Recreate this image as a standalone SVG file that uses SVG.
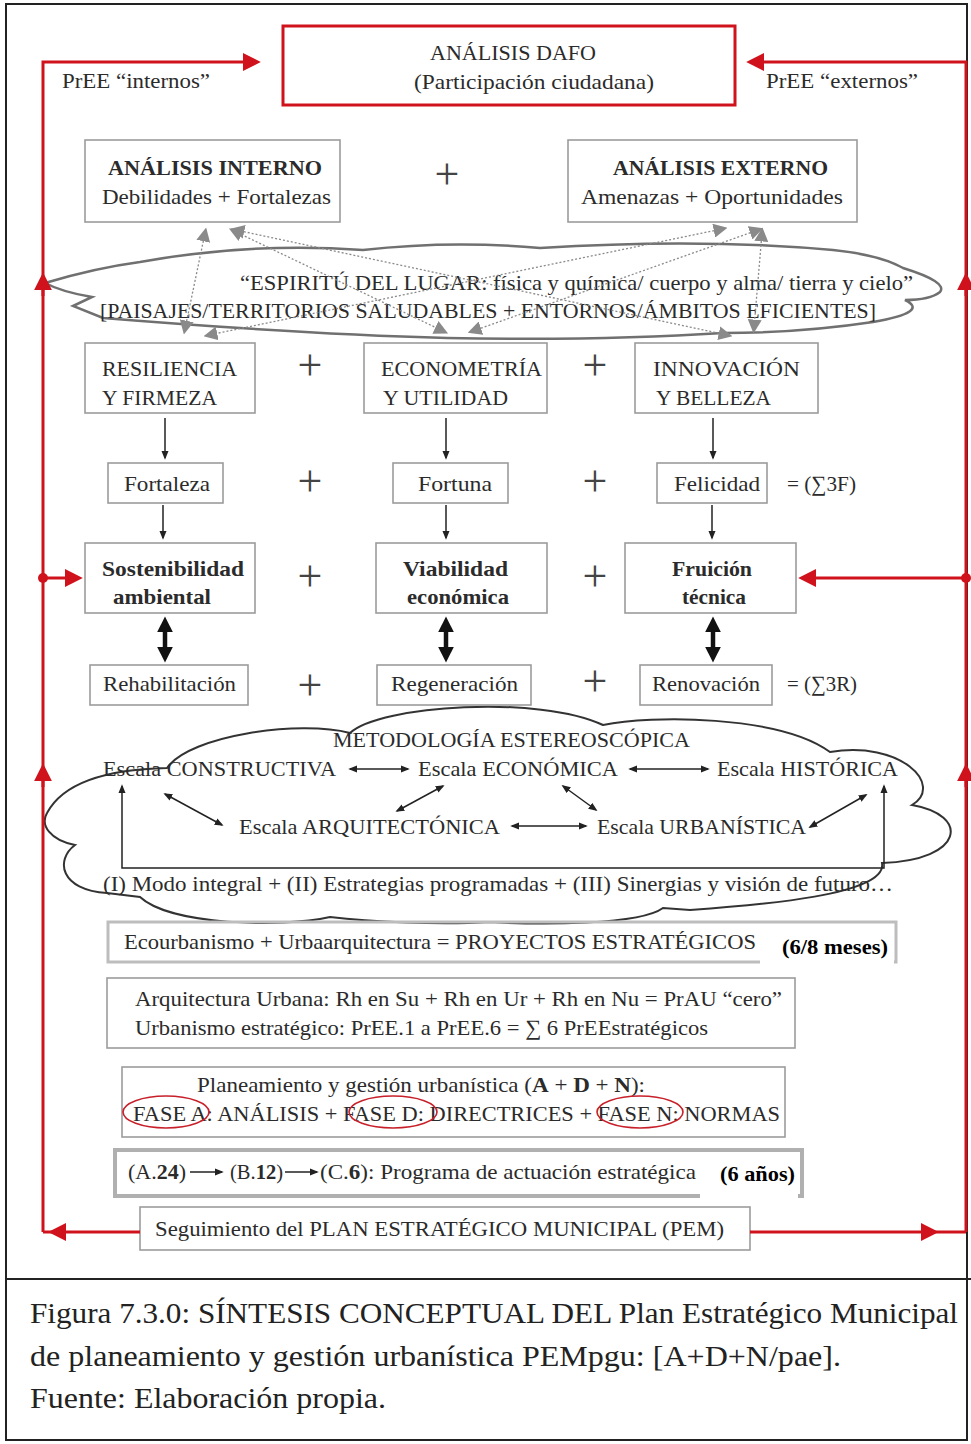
<svg xmlns="http://www.w3.org/2000/svg" width="971" height="1444" viewBox="0 0 971 1444">
<style>
.t{font-family:"Liberation Serif",serif;font-size:22px;fill:#2b2b2b}
.b{font-weight:bold}
.box{fill:none;stroke:#9c9c9c;stroke-width:1.6}
.pl{font-family:"Liberation Serif",serif;font-size:44px;fill:#444;text-anchor:middle}
.red{stroke:#d0121d;stroke-width:3;fill:none}
.thin{stroke:#222;stroke-width:1.5;fill:none}
.thick{stroke:#111;stroke-width:4.5;fill:none}
.dot{stroke:#8a8a8a;stroke-width:1.3;stroke-dasharray:2 2;fill:none}
.cap{font-family:"Liberation Serif",serif;font-size:30px;fill:#222}
</style>
<defs>
<marker id="a" viewBox="0 0 10 10" refX="8" refY="5" markerWidth="9" markerHeight="9" markerUnits="userSpaceOnUse" orient="auto-start-reverse"><path d="M0,1 L10,5 L0,9 z" fill="#222"/></marker>
<marker id="at" viewBox="0 0 10 10" refX="4" refY="5" markerWidth="16" markerHeight="16" markerUnits="userSpaceOnUse" orient="auto-start-reverse"><path d="M0,0 L10,5 L0,10 z" fill="#111"/></marker>
<marker id="ar" viewBox="0 0 10 10" refX="4" refY="5" markerWidth="18" markerHeight="18" markerUnits="userSpaceOnUse" orient="auto-start-reverse"><path d="M0,0 L10,5 L0,10 z" fill="#d0121d"/></marker>
<marker id="ag" viewBox="0 0 10 10" refX="6" refY="5" markerWidth="14" markerHeight="14" markerUnits="userSpaceOnUse" orient="auto-start-reverse"><path d="M0,0 L10,5 L0,10 z" fill="#8a8a8a"/></marker>
</defs>
<rect x="0" y="0" width="971" height="1444" fill="#fff"/>
<rect x="6" y="4" width="961" height="1436" fill="none" stroke="#222" stroke-width="2"/>
<line x1="6" y1="1279" x2="971" y2="1279" stroke="#222" stroke-width="2"/>

<!-- clouds -->
<g id="cloud1">
<path d="M45,283 Q95,268 140,262 Q250,242 363,250 Q450,240 540,248 Q700,238 833,250 Q880,255 903,268 Q948,282 940,292 Q930,300 905,300 Q930,312 873,322 Q800,333 723,333 Q600,341 447,338 Q300,334 103,318 L73,306 L92,297 Q62,292 45,283 Z" fill="none" stroke="#707070" stroke-width="2.5"/>
<text class="t" x="240" y="290" textLength="673" lengthAdjust="spacingAndGlyphs">“ESPIRITÚ DEL LUGAR: física y química/ cuerpo y alma/ tierra y cielo”</text>
<text class="t" x="100" y="318" textLength="776" lengthAdjust="spacingAndGlyphs">[PAISAJES/TERRITORIOS SALUDABLES + ENTORNOS/ÁMBITOS EFICIENTES]</text>
</g>
<g id="cloud2">
<path d="M47,813 Q70,770 167,768 C190,735 300,720 350,733 C380,705 540,695 603,725 C650,715 780,715 830,752 C900,740 945,785 912,805 C970,815 965,860 882,863 C888,895 760,905 690,910 L663,908 C640,925 540,925 490,922 C440,925 370,922 330,917 C280,928 170,925 140,897 L107,893 C60,890 55,860 75,845 C50,840 40,825 47,813 Z" fill="none" stroke="#333" stroke-width="2"/>
<text class="t" x="333" y="747" textLength="357" lengthAdjust="spacingAndGlyphs">METODOLOGÍA ESTEREOSCÓPICA</text>
<text class="t" x="103" y="776" textLength="233" lengthAdjust="spacingAndGlyphs">Escala CONSTRUCTIVA</text>
<text class="t" x="418" y="776" textLength="200" lengthAdjust="spacingAndGlyphs">Escala ECONÓMICA</text>
<text class="t" x="717" y="776" textLength="181" lengthAdjust="spacingAndGlyphs">Escala HISTÓRICA</text>
<text class="t" x="239" y="834" textLength="261" lengthAdjust="spacingAndGlyphs">Escala ARQUITECTÓNICA</text>
<text class="t" x="597" y="834" textLength="209" lengthAdjust="spacingAndGlyphs">Escala URBANÍSTICA</text>
<text class="t" x="103" y="891" textLength="790" lengthAdjust="spacingAndGlyphs">(I) Modo integral + (II) Estrategias programadas + (III) Sinergias y visión de futuro…</text>
</g>

<!-- nodes -->
<g id="dafo">
<rect x="283" y="26" width="452" height="79" class="red"/>
<text class="t" x="430" y="60" textLength="166" lengthAdjust="spacingAndGlyphs">ANÁLISIS DAFO</text>
<text class="t" x="414" y="89" textLength="240" lengthAdjust="spacingAndGlyphs">(Participación ciudadana)</text>
</g>
<g id="lbl-int"><text class="t" x="62" y="88" textLength="148" lengthAdjust="spacingAndGlyphs">PrEE “internos”</text></g>
<g id="lbl-ext"><text class="t" x="766" y="88" textLength="152" lengthAdjust="spacingAndGlyphs">PrEE “externos”</text></g>
<g id="interno">
<rect x="85" y="140" width="255" height="82" class="box"/>
<text class="t b" x="108" y="175" textLength="214" lengthAdjust="spacingAndGlyphs">ANÁLISIS INTERNO</text>
<text class="t" x="102" y="204" textLength="229" lengthAdjust="spacingAndGlyphs">Debilidades + Fortalezas</text>
</g>
<text class="pl" x="447" y="189">+</text>
<g id="externo">
<rect x="568" y="140" width="289" height="82" class="box"/>
<text class="t b" x="613" y="175" textLength="215" lengthAdjust="spacingAndGlyphs">ANÁLISIS EXTERNO</text>
<text class="t" x="581" y="204" textLength="262" lengthAdjust="spacingAndGlyphs">Amenazas + Oportunidades</text>
</g>

<g id="resiliencia">
<rect x="85" y="343" width="170" height="70" class="box"/>
<text class="t" x="102" y="376" textLength="135" lengthAdjust="spacingAndGlyphs">RESILIENCIA</text>
<text class="t" x="102" y="405" textLength="115" lengthAdjust="spacingAndGlyphs">Y FIRMEZA</text>
</g>
<g id="econometria">
<rect x="364" y="343" width="183" height="70" class="box"/>
<text class="t" x="381" y="376" textLength="161" lengthAdjust="spacingAndGlyphs">ECONOMETRÍA</text>
<text class="t" x="383" y="405" textLength="125" lengthAdjust="spacingAndGlyphs">Y UTILIDAD</text>
</g>
<g id="innovacion">
<rect x="635" y="343" width="183" height="70" class="box"/>
<text class="t" x="653" y="376" textLength="147" lengthAdjust="spacingAndGlyphs">INNOVACIÓN</text>
<text class="t" x="656" y="405" textLength="115" lengthAdjust="spacingAndGlyphs">Y BELLEZA</text>
</g>
<text class="pl" x="310" y="380">+</text>
<text class="pl" x="595" y="380">+</text>

<g id="fortaleza">
<rect x="108" y="463" width="115" height="40" class="box"/>
<text class="t" x="124" y="491" textLength="86" lengthAdjust="spacingAndGlyphs">Fortaleza</text>
</g>
<g id="fortuna">
<rect x="393" y="463" width="115" height="40" class="box"/>
<text class="t" x="418" y="491" textLength="74" lengthAdjust="spacingAndGlyphs">Fortuna</text>
</g>
<g id="felicidad">
<rect x="657" y="463" width="110" height="40" class="box"/>
<text class="t" x="674" y="491" textLength="86" lengthAdjust="spacingAndGlyphs">Felicidad</text>
</g>
<text class="t" x="787" y="491" textLength="69" lengthAdjust="spacingAndGlyphs">= (∑3F)</text>
<text class="pl" x="310" y="496">+</text>
<text class="pl" x="595" y="496">+</text>

<g id="sostenibilidad">
<rect x="85" y="543" width="170" height="70" class="box"/>
<text class="t b" x="102" y="576" textLength="142" lengthAdjust="spacingAndGlyphs">Sostenibilidad</text>
<text class="t b" x="113" y="604" textLength="98" lengthAdjust="spacingAndGlyphs">ambiental</text>
</g>
<g id="viabilidad">
<rect x="376" y="543" width="171" height="70" class="box"/>
<text class="t b" x="403" y="576" textLength="105" lengthAdjust="spacingAndGlyphs">Viabilidad</text>
<text class="t b" x="407" y="604" textLength="102" lengthAdjust="spacingAndGlyphs">económica</text>
</g>
<g id="fruicion">
<rect x="625" y="543" width="171" height="70" class="box"/>
<text class="t b" x="672" y="576" textLength="80" lengthAdjust="spacingAndGlyphs">Fruición</text>
<text class="t b" x="682" y="604" textLength="64" lengthAdjust="spacingAndGlyphs">técnica</text>
</g>
<text class="pl" x="310" y="591">+</text>
<text class="pl" x="595" y="591">+</text>

<g id="rehabilitacion">
<rect x="90" y="665" width="158" height="40" class="box"/>
<text class="t" x="103" y="691" textLength="133" lengthAdjust="spacingAndGlyphs">Rehabilitación</text>
</g>
<g id="regeneracion">
<rect x="377" y="665" width="154" height="40" class="box"/>
<text class="t" x="391" y="691" textLength="127" lengthAdjust="spacingAndGlyphs">Regeneración</text>
</g>
<g id="renovacion">
<rect x="640" y="665" width="132" height="40" class="box"/>
<text class="t" x="652" y="691" textLength="108" lengthAdjust="spacingAndGlyphs">Renovación</text>
</g>
<text class="t" x="787" y="691" textLength="70" lengthAdjust="spacingAndGlyphs">= (∑3R)</text>
<text class="pl" x="310" y="700">+</text>
<text class="pl" x="595" y="696">+</text>

<g id="ecourbanismo">
<rect x="108" y="922" width="788" height="40" fill="none" stroke="#bdbdbd" stroke-width="3"/>
<rect x="760" y="930" width="134" height="36" fill="#fff"/>
<text class="t" x="124" y="949" textLength="632" lengthAdjust="spacingAndGlyphs">Ecourbanismo + Urbaarquitectura = PROYECTOS ESTRATÉGICOS</text>
<text class="t b" x="782" y="954" textLength="106" lengthAdjust="spacingAndGlyphs" style="fill:#000;font-size:20px">(6/8 meses)</text>
</g>
<g id="arquitectura">
<rect x="107" y="978" width="688" height="70" class="box"/>
<text class="t" x="135" y="1006" textLength="647" lengthAdjust="spacingAndGlyphs">Arquitectura Urbana: Rh en Su + Rh en Ur + Rh en Nu = PrAU “cero”</text>
<text class="t" x="135" y="1035" textLength="573" lengthAdjust="spacingAndGlyphs">Urbanismo estratégico: PrEE.1 a PrEE.6 = ∑ 6 PrEEstratégicos</text>
</g>
<g id="planeamiento">
<rect x="122" y="1067" width="663" height="70" class="box"/>
<text class="t" x="197" y="1092" textLength="448" lengthAdjust="spacingAndGlyphs">Planeamiento y gestión urbanística (<tspan class="b">A</tspan> + <tspan class="b">D</tspan> + <tspan class="b">N</tspan>):</text>
<text class="t" x="133" y="1121" textLength="647" lengthAdjust="spacingAndGlyphs">FASE A: ANÁLISIS  +  FASE D: DIRECTRICES + FASE N: NORMAS</text>
<ellipse cx="166" cy="1112" rx="43" ry="16" fill="none" stroke="#c8202a" stroke-width="1.6"/>
<ellipse cx="393" cy="1112" rx="44" ry="16" fill="none" stroke="#c8202a" stroke-width="1.6"/>
<ellipse cx="640" cy="1112" rx="43" ry="16" fill="none" stroke="#c8202a" stroke-width="1.6"/>
</g>
<g id="programa">
<rect x="115" y="1150" width="687" height="46" fill="none" stroke="#b0b0b0" stroke-width="4"/>
<rect x="700" y="1154" width="98" height="46" fill="#fff"/>
<text class="t" x="128" y="1179" textLength="58" lengthAdjust="spacingAndGlyphs">(A.<tspan class="b">24</tspan>)</text>
<text class="t" x="230" y="1179" textLength="53" lengthAdjust="spacingAndGlyphs">(B.<tspan class="b">12</tspan>)</text>
<text class="t" x="320" y="1179" textLength="376" lengthAdjust="spacingAndGlyphs">(C.<tspan class="b">6</tspan>): Programa de actuación estratégica</text>
<text class="t b" x="720" y="1181" textLength="75" lengthAdjust="spacingAndGlyphs" style="fill:#000;font-size:20px">(6 años)</text>
</g>
<g id="seguimiento">
<rect x="140" y="1207" width="610" height="43" class="box"/>
<text class="t" x="155" y="1236" textLength="569" lengthAdjust="spacingAndGlyphs">Seguimiento del PLAN ESTRATÉGICO MUNICIPAL (PEM)</text>
</g>

<!-- connectors -->
<g id="connectors">
<polyline class="red" points="43,1232 43,62 250,62" marker-end="url(#ar)"/>
<polyline class="red" points="966,1232 966,62 757,62" marker-end="url(#ar)"/>
<line class="red" x1="140" y1="1232" x2="59" y2="1232" marker-end="url(#ar)"/>
<line class="red" x1="59" y1="1232" x2="43" y2="1232"/>
<line class="red" x1="750" y1="1232" x2="928" y2="1232" marker-end="url(#ar)"/>
<line class="red" x1="928" y1="1232" x2="966" y2="1232"/>
<line class="red" x1="43" y1="296" x2="43" y2="283" marker-end="url(#ar)"/>
<line class="red" x1="43" y1="787" x2="43" y2="774" marker-end="url(#ar)"/>
<line class="red" x1="966" y1="296" x2="966" y2="283" marker-end="url(#ar)"/>
<line class="red" x1="966" y1="787" x2="966" y2="774" marker-end="url(#ar)"/>
<circle cx="43" cy="578" r="5" fill="#d0121d"/>
<line class="red" x1="43" y1="578" x2="72" y2="578" marker-end="url(#ar)"/>
<circle cx="966" cy="578" r="5" fill="#d0121d"/>
<line class="red" x1="966" y1="578" x2="809" y2="578" marker-end="url(#ar)"/>
<line class="dot" x1="205" y1="233" x2="185" y2="329" marker-start="url(#ag)" marker-end="url(#ag)"/>
<line class="dot" x1="234" y1="231" x2="443" y2="331" marker-start="url(#ag)" marker-end="url(#ag)"/>
<line class="dot" x1="236" y1="230" x2="727" y2="335" marker-start="url(#ag)" marker-end="url(#ag)"/>
<line class="dot" x1="722" y1="229" x2="209" y2="335" marker-start="url(#ag)" marker-end="url(#ag)"/>
<line class="dot" x1="758" y1="230" x2="473" y2="331" marker-start="url(#ag)" marker-end="url(#ag)"/>
<line class="dot" x1="762" y1="233" x2="754" y2="328" marker-start="url(#ag)" marker-end="url(#ag)"/>
<line class="thin" x1="165" y1="418" x2="165" y2="458" marker-end="url(#a)"/>
<line class="thin" x1="446" y1="418" x2="446" y2="458" marker-end="url(#a)"/>
<line class="thin" x1="713" y1="418" x2="713" y2="458" marker-end="url(#a)"/>
<line class="thin" x1="163" y1="505" x2="163" y2="538" marker-end="url(#a)"/>
<line class="thin" x1="446" y1="505" x2="446" y2="538" marker-end="url(#a)"/>
<line class="thin" x1="712" y1="505" x2="712" y2="538" marker-end="url(#a)"/>
<line class="thick" x1="165" y1="626" x2="165" y2="653" marker-start="url(#at)" marker-end="url(#at)"/>
<line class="thick" x1="446" y1="626" x2="446" y2="653" marker-start="url(#at)" marker-end="url(#at)"/>
<line class="thick" x1="713" y1="626" x2="713" y2="653" marker-start="url(#at)" marker-end="url(#at)"/>
<line class="thin" x1="350" y1="769" x2="408" y2="769" marker-start="url(#a)" marker-end="url(#a)"/>
<line class="thin" x1="630" y1="769" x2="708" y2="769" marker-start="url(#a)" marker-end="url(#a)"/>
<line class="thin" x1="512" y1="826" x2="586" y2="826" marker-start="url(#a)" marker-end="url(#a)"/>
<line class="thin" x1="165" y1="794" x2="222" y2="825" marker-start="url(#a)" marker-end="url(#a)"/>
<line class="thin" x1="443" y1="786" x2="397" y2="811" marker-start="url(#a)" marker-end="url(#a)"/>
<line class="thin" x1="563" y1="786" x2="596" y2="810" marker-start="url(#a)" marker-end="url(#a)"/>
<line class="thin" x1="866" y1="795" x2="810" y2="827" marker-start="url(#a)" marker-end="url(#a)"/>
<polyline class="thin" points="122,786 122,868 884,868 884,786" marker-start="url(#a)" marker-end="url(#a)"/>
<line class="thin" x1="190" y1="1172" x2="222" y2="1172" marker-end="url(#a)"/>
<line class="thin" x1="285" y1="1172" x2="317" y2="1172" marker-end="url(#a)"/>
</g>

<g id="caption">
<text class="cap" x="30" y="1323" textLength="928" lengthAdjust="spacingAndGlyphs">Figura 7.3.0: SÍNTESIS CONCEPTUAL DEL Plan Estratégico Municipal</text>
<text class="cap" x="30" y="1366" textLength="811" lengthAdjust="spacingAndGlyphs">de planeamiento y gestión urbanística PEMpgu: [A+D+N/pae].</text>
<text class="cap" x="30" y="1408" textLength="356" lengthAdjust="spacingAndGlyphs">Fuente: Elaboración propia.</text>
</g>
</svg>
